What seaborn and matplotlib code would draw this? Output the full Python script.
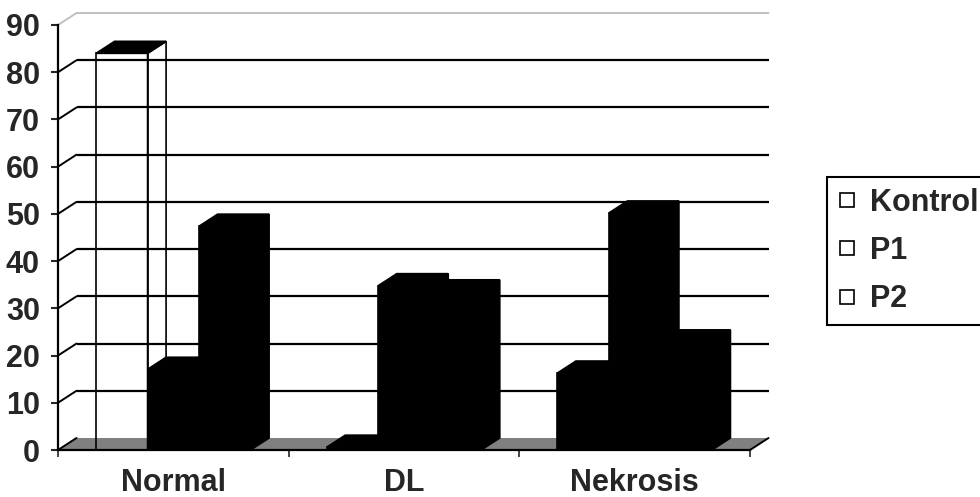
import matplotlib
matplotlib.use("Agg")
import matplotlib.pyplot as plt
from matplotlib.patches import Polygon
from matplotlib.lines import Line2D
import seaborn as sns
import pandas as pd

# Daten
kategorien = ["Normal", "DL", "Nekrosis"]
gruppen = ["Kontrol", "P1", "P2"]
kontrol = [84, 0.6, 16.3]
p1 = [17.1, 34.8, 50.2]
p2 = [47.4, 33.5, 22.9]
y_ticks = [0, 10, 20, 30, 40, 50, 60, 70, 80, 90]

# nur diese Saeule ist im Original ohne Fuellung
leer = ("Normal", "Kontrol")

df = pd.DataFrame({
    "kategorie": kategorien * 3,
    "gruppe": [g for g in gruppen for _ in kategorien],
    "wert": kontrol + p1 + p2,
})

sns.set_style("white")
plt.rcParams["font.family"] = ["Liberation Sans", "DejaVu Sans"]
plt.rcParams["font.weight"] = "bold"

fig = plt.figure(figsize=(9.8, 4.97), dpi=100)
ax = fig.add_axes([58 / 980, 47 / 497, 692 / 980, 425 / 497])

sns.barplot(data=df, x="kategorie", y="wert", hue="gruppe",
            order=kategorien, hue_order=gruppen,
            palette=["black", "black", "black"], width=0.67,
            edgecolor="black", linewidth=1.2, legend=False, ax=ax)
# Reihenfolge in ax.patches: erst alle Kontrol, dann P1, dann P2
namen = [(k, g) for g in gruppen for k in kategorien]
paare = list(zip(ax.patches, namen))
paare.sort(key=lambda t: t[0].get_x())

ax.set_xlim(-0.5, 2.5)
ax.set_ylim(0, 90)

# Tiefe der 3D-Darstellung in Datenkoordinaten
dx = 18.5 / 692 * 3
dy = 12 / 425 * 90

# Boden und Rueckwand
boden = Polygon([(-0.5, 0), (2.5, 0), (2.5 + dx, dy), (-0.5 + dx, dy)],
                closed=True, facecolor="#808080", edgecolor="none",
                zorder=0.5, clip_on=False)
ax.add_patch(boden)
for v in y_ticks[1:-1]:
    ax.plot([-0.5 + dx, 2.5 + dx], [v + dy, v + dy], color="black",
            lw=1.6, zorder=1, clip_on=False, solid_capstyle="butt")
for v in y_ticks[:-1]:
    ax.plot([-0.5, -0.5 + dx], [v, v + dy], color="black", lw=1.4,
            zorder=1, clip_on=False)
ax.plot([-0.5, -0.5 + dx, 2.5 + dx], [90, 90 + dy, 90 + dy],
        color="#c0c0c0", lw=1.4, zorder=1, clip_on=False)
ax.plot([2.5, 2.5 + dx], [0, dy], color="black", lw=1.4, zorder=1,
        clip_on=False)

# Saeulen als Quader
for i, (p, name) in enumerate(paare):
    x0, w, h = p.get_x(), p.get_width(), p.get_height()
    hohl = name == leer
    z = 3 + i * 0.1
    fc = "none" if hohl else "black"
    seite = Polygon([(x0 + w, 0), (x0 + w + dx, dy), (x0 + w + dx, h + dy),
                     (x0 + w, h)], closed=True, facecolor=fc,
                    edgecolor="black", lw=1.2, zorder=z, clip_on=False)
    oben = Polygon([(x0, h), (x0 + dx, h + dy), (x0 + w + dx, h + dy),
                    (x0 + w, h)], closed=True, facecolor="black",
                   edgecolor="black", lw=1.2, zorder=z + 0.02, clip_on=False)
    ax.add_patch(seite)
    ax.add_patch(oben)
    if hohl:
        p.set_facecolor("none")
    p.set_zorder(z + 0.05)
    p.set_clip_on(False)

# Achsen
for s in ["top", "right"]:
    ax.spines[s].set_visible(False)
for s in ["left", "bottom"]:
    ax.spines[s].set_linewidth(1.6)
    ax.spines[s].set_color("black")
    ax.spines[s].set_zorder(2)

ax.set_yticks(y_ticks)
ax.set_yticklabels([str(v) for v in y_ticks])
ax.set_xticks([-0.5, 0.5, 1.5, 2.5], minor=True)
ax.tick_params(axis="y", direction="out", length=5, width=1.5,
               labelsize=22, pad=8, left=True)
ax.tick_params(axis="x", which="major", length=0, labelsize=22, pad=13)
ax.tick_params(axis="x", which="minor", direction="out", length=5,
               width=1.2, bottom=True)
for lbl in ax.get_xticklabels() + ax.get_yticklabels():
    lbl.set_fontweight("bold")
ax.set_xlabel("")
ax.set_ylabel("")
ax.grid(False)

# Legende
griffe = [Line2D([], [], marker="s", linestyle="none", markersize=10.5,
                 markerfacecolor="white", markeredgecolor="black",
                 markeredgewidth=1.2) for _ in gruppen]
leg = fig.legend(griffe, gruppen, loc="upper left",
                 bbox_to_anchor=(827 / 980, 1 - 177 / 497),
                 frameon=True, fancybox=False, framealpha=1,
                 edgecolor="black", handlelength=0.6, handletextpad=0.45,
                 labelspacing=0.6, borderpad=0.35, borderaxespad=0,
                 prop={"size": 22, "weight": "bold"})
leg.get_frame().set_linewidth(1.5)

fig.savefig("out.png", dpi=100)
